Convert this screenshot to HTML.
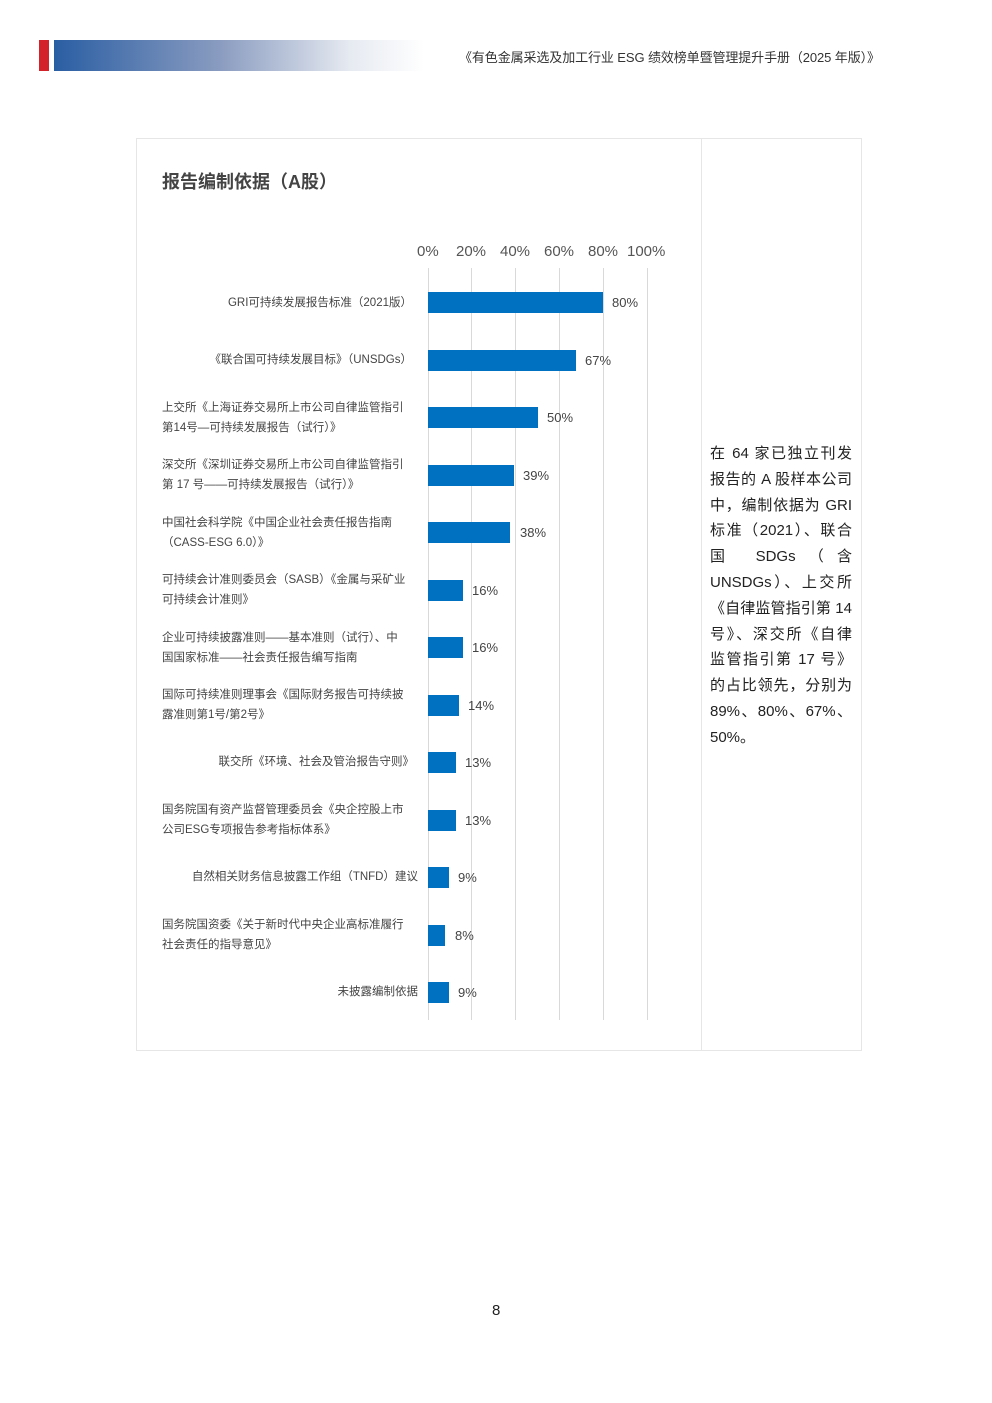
<!DOCTYPE html>
<html><head><meta charset="utf-8"><style>
body{margin:0;width:992px;height:1403px;background:#fff;position:relative;font-family:"Liberation Sans","Noto Sans CJK SC",sans-serif;overflow:hidden}
.a{position:absolute}
.lbl{position:absolute;left:162px;width:257px;font-size:11.5px;color:#444;line-height:20px;text-align:justify}
.r{text-align:right}
.bar{position:absolute;left:428px;height:21px;background:#0070c0}
.v{position:absolute;font-size:13px;color:#444}
.g{position:absolute;top:268px;height:752px;width:1px;background:#d9d9d9}
.t{position:absolute;top:243px;font-size:15px;color:#555}
</style></head><body>
<div class="a" style="left:39px;top:40px;width:10px;height:31px;background:#d3222a"></div>
<div class="a" style="left:54px;top:40px;width:370px;height:31px;background:linear-gradient(90deg,#2a5ea3,#8a9cc0 45%,#e6eaf1 80%,#fff)"></div>
<div class="a" style="left:459px;top:47px;font-size:13px;color:#333;letter-spacing:-0.1px">《有色金属采选及加工行业 ESG 绩效榜单暨管理提升手册（2025 年版）》</div>
<div class="a" style="left:136px;top:138px;width:724px;height:911px;border:1px solid #e6e6e6"></div>
<div class="a" style="left:701px;top:139px;width:1px;height:911px;background:#e6e6e6"></div>
<div class="a" style="left:162px;top:168px;font-size:18px;font-weight:bold;color:#444">报告编制依据（A股）</div>
<div class="t" style="left:417px">0%</div><div class="t" style="left:456px">20%</div><div class="t" style="left:500px">40%</div><div class="t" style="left:544px">60%</div><div class="t" style="left:588px">80%</div><div class="t" style="left:627px">100%</div>
<div class="g" style="left:428px"></div><div class="g" style="left:471px"></div><div class="g" style="left:515px"></div><div class="g" style="left:559px"></div><div class="g" style="left:603px"></div><div class="g" style="left:647px"></div>

<div class="bar" style="top:292px;width:175px"></div><div class="v" style="left:612px;top:295px">80%</div>
<div class="bar" style="top:350px;width:148px"></div><div class="v" style="left:585px;top:353px">67%</div>
<div class="bar" style="top:407px;width:110px"></div><div class="v" style="left:547px;top:410px">50%</div>
<div class="bar" style="top:465px;width:86px"></div><div class="v" style="left:523px;top:468px">39%</div>
<div class="bar" style="top:522px;width:82px"></div><div class="v" style="left:520px;top:525px">38%</div>
<div class="bar" style="top:580px;width:35px"></div><div class="v" style="left:472px;top:583px">16%</div>
<div class="bar" style="top:637px;width:35px"></div><div class="v" style="left:472px;top:640px">16%</div>
<div class="bar" style="top:695px;width:31px"></div><div class="v" style="left:468px;top:698px">14%</div>
<div class="bar" style="top:752px;width:28px"></div><div class="v" style="left:465px;top:755px">13%</div>
<div class="bar" style="top:810px;width:28px"></div><div class="v" style="left:465px;top:813px">13%</div>
<div class="bar" style="top:867px;width:21px"></div><div class="v" style="left:458px;top:870px">9%</div>
<div class="bar" style="top:925px;width:17px"></div><div class="v" style="left:455px;top:928px">8%</div>
<div class="bar" style="top:982px;width:21px"></div><div class="v" style="left:458px;top:985px">9%</div>

<div class="lbl r" style="top:293px;width:250px">GRI可持续发展报告标准（2021版）</div>
<div class="lbl r" style="top:350px;width:250px">《联合国可持续发展目标》（UNSDGs）</div>
<div class="lbl" style="top:398px">上交所《上海证券交易所上市公司自律监管指引<br>第14号—可持续发展报告（试行）》</div>
<div class="lbl" style="top:455px">深交所《深圳证券交易所上市公司自律监管指引<br>第 17 号——可持续发展报告（试行）》</div>
<div class="lbl" style="top:513px">中国社会科学院《中国企业社会责任报告指南<br>（CASS-ESG 6.0）》</div>
<div class="lbl" style="top:570px">可持续会计准则委员会（SASB）《金属与采矿业<br>可持续会计准则》</div>
<div class="lbl" style="top:628px">企业可持续披露准则——基本准则（试行）、中<br>国国家标准——社会责任报告编写指南</div>
<div class="lbl" style="top:685px">国际可持续准则理事会《国际财务报告可持续披<br>露准则第1号/第2号》</div>
<div class="lbl r" style="top:752px;width:252px">联交所《环境、社会及管治报告守则》</div>
<div class="lbl" style="top:800px">国务院国有资产监督管理委员会《央企控股上市<br>公司ESG专项报告参考指标体系》</div>
<div class="lbl r" style="top:867px;width:256px">自然相关财务信息披露工作组（TNFD）建议</div>
<div class="lbl" style="top:915px">国务院国资委《关于新时代中央企业高标准履行<br>社会责任的指导意见》</div>
<div class="lbl r" style="top:982px;width:256px">未披露编制依据</div>

<div class="a" style="left:710px;top:441px;width:142px;font-size:15px;line-height:25.8px;color:#222;text-align:justify">在 64 家已独立刊发报告的 A 股样本公司中，编制依据为 GRI 标准（2021）、联合国 SDGs（含 UNSDGs）、上交所《自律监管指引第 14 号》、深交所《自律监管指引第 17 号》的占比领先，分别为 89%、80%、67%、50%。</div>
<div class="a" style="left:492px;top:1302px;font-size:15px;color:#222">8</div>
</body></html>
